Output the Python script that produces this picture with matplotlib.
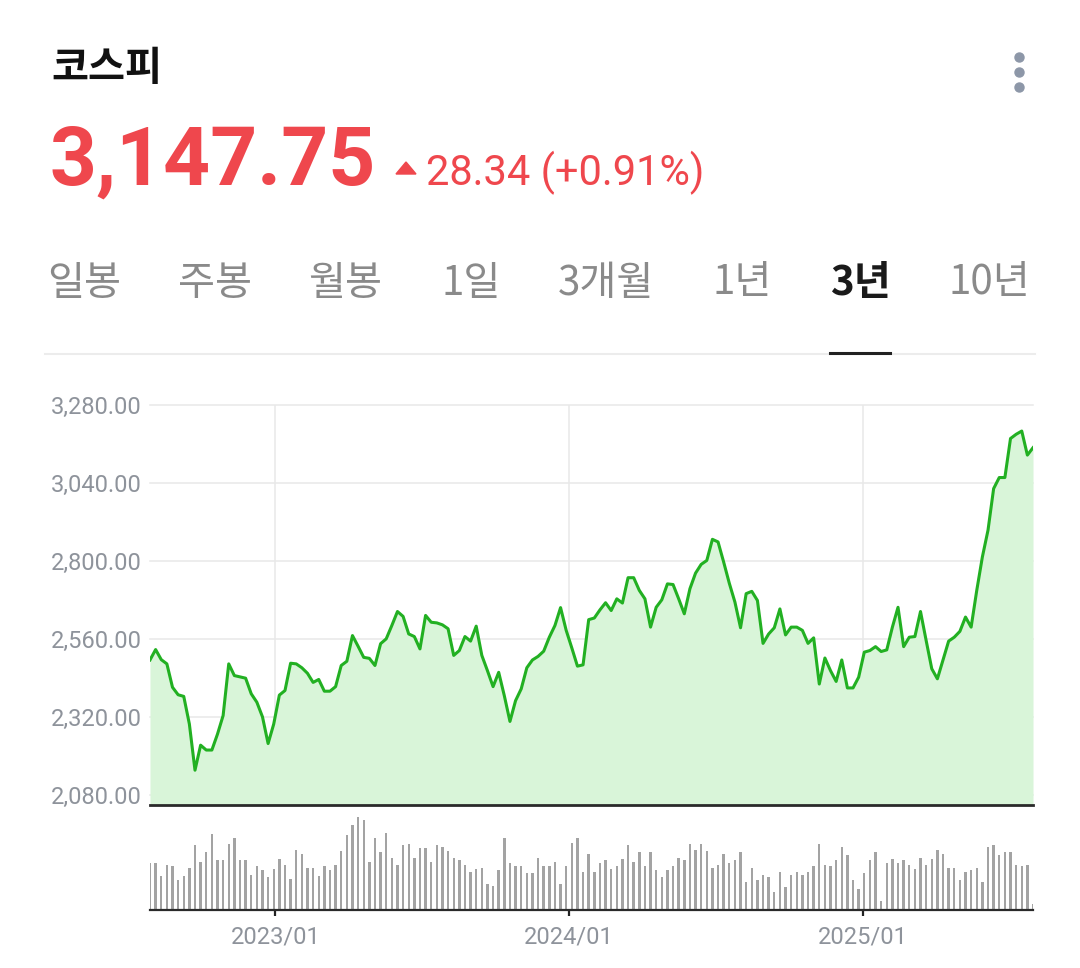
import matplotlib
matplotlib.use('Agg')
import matplotlib.pyplot as plt
from matplotlib.lines import Line2D
from matplotlib.patches import Polygon
import pandas as pd

plt.rcParams['font.family'] = ['Roboto', 'Noto Sans CJK KR', 'DejaVu Sans']

title = '코스피'
last_price = '3,147.75'
change_text = '28.34 (+0.91%)'
tabs = ['일봉', '주봉', '월봉', '1일', '3개월', '1년', '3년', '10년']
active_tab = '3년'

# weekly close, KOSPI
close = [2495, 2527, 2496, 2483, 2411, 2388, 2383, 2298, 2156, 2233,
         2218, 2218, 2267, 2324, 2483, 2447, 2443, 2439, 2391, 2365,
         2320, 2238, 2298, 2387, 2401, 2485, 2483, 2471, 2454, 2426,
         2435, 2399, 2399, 2413, 2478, 2491, 2570, 2537, 2503, 2500,
         2478, 2545, 2560, 2601, 2644, 2629, 2575, 2567, 2529, 2632,
         2611, 2609, 2603, 2591, 2509, 2524, 2567, 2553, 2599, 2509,
         2462, 2413, 2457, 2385, 2306, 2370, 2406, 2471, 2495, 2506,
         2522, 2565, 2601, 2656, 2586, 2532, 2476, 2480, 2619, 2624,
         2649, 2671, 2647, 2683, 2670, 2748, 2748, 2709, 2683, 2596,
         2657, 2680, 2729, 2727, 2683, 2637, 2714, 2762, 2789, 2801,
         2866, 2858, 2796, 2731, 2673, 2594, 2699, 2706, 2678, 2546,
         2575, 2594, 2652, 2572, 2596, 2596, 2586, 2546, 2563, 2421,
         2501, 2462, 2429, 2495, 2409, 2409, 2442, 2519, 2524, 2536,
         2521, 2526, 2596, 2657, 2536, 2565, 2567, 2644, 2555, 2468,
         2437, 2495, 2553, 2565, 2583, 2627, 2596, 2709, 2812, 2894,
         3022, 3056, 3056, 3176, 3189, 3199, 3125, 3147.75]

# weekly volume (relative units)
volume = [47, 47, 34, 45, 44, 30, 34, 42, 64, 48,
          57, 75, 50, 50, 65, 71, 50, 50, 35, 44,
          40, 33, 41, 51, 45, 31, 59, 55, 42, 42,
          34, 44, 40, 45, 58, 74, 84, 92, 89, 48,
          71, 57, 76, 52, 45, 64, 65, 52, 61, 61,
          48, 64, 62, 58, 52, 50, 45, 38, 41, 42,
          26, 24, 40, 71, 47, 44, 44, 37, 37, 52,
          44, 44, 48, 26, 44, 66, 71, 38, 55, 38,
          47, 50, 41, 44, 51, 64, 48, 57, 44, 57,
          40, 33, 40, 44, 52, 50, 65, 59, 65, 58,
          42, 45, 55, 47, 50, 57, 28, 42, 30, 35,
          33, 18, 38, 23, 35, 38, 35, 38, 44, 65,
          45, 44, 50, 62, 54, 30, 21, 37, 50, 57,
          9, 47, 51, 47, 50, 45, 41, 52, 45, 51,
          59, 55, 42, 42, 30, 38, 40, 42, 28, 62,
          64, 54, 57, 57, 45, 44, 45, 6]

dates = pd.date_range('2022-07-29', periods=len(close), freq='7D')
year_ticks = pd.to_datetime(['2023-01-01', '2024-01-01', '2025-01-01'])
price_ticks = [2080, 2320, 2560, 2800, 3040, 3280]

W, H = 1080, 968
def fx(px):
    return px / W
def fy(py):
    return 1 - py / H

red = '#ef474d'
grey_txt = '#8e939b'
grid_c = '#e8e8e8'

fig = plt.figure(figsize=(W / 100, H / 100), dpi=100)
fig.patch.set_facecolor('white')

# header
fig.text(fx(51), fy(68), title, fontsize=29, fontweight='bold', color='#111111',
         family=['Noto Sans CJK KR'], ha='left', va='center')
fig.add_artist(Line2D([fx(1019)] * 3, [fy(57), fy(72), fy(87)], ls='', marker='o',
                      ms=6.5, color='#8d97a8', transform=fig.transFigure))
fig.text(fx(50), fy(185), last_price, fontsize=59, fontweight='bold', color=red,
         ha='left', va='baseline')
fig.add_artist(Polygon([[fx(396), fy(174)], [fx(416), fy(174)], [fx(406), fy(162)]],
                       closed=True, color=red, transform=fig.transFigure))
fig.text(fx(426), fy(185), change_text, fontsize=30, color=red, ha='left', va='baseline')

# tabs
tab_x = [84, 215, 345, 471, 606, 742, 860, 989]
for t, x in zip(tabs, tab_x):
    if t == active_tab:
        fig.text(fx(x), fy(283), t, fontsize=29, fontweight='bold', color='#1a1a1a',
                 family=['Noto Sans CJK KR'], ha='center', va='center')
    else:
        fig.text(fx(x), fy(283), t, fontsize=29, color='#8a8a8a',
                 family=['Noto Sans CJK KR'], ha='center', va='center')
fig.add_artist(Line2D([fx(45), fx(1035)], [fy(354), fy(354)], color='#ececec', lw=1.5,
                      transform=fig.transFigure))
fig.add_artist(Line2D([fx(830), fx(890)], [fy(353), fy(353)], color='#222222', lw=2.2,
                      transform=fig.transFigure))

# price chart
ymin = 2049
ax = fig.add_axes([fx(150), fy(805), fx(883), (805 - 404.7) / H])
ax.set_xlim(dates[0], dates[-1])
ax.set_ylim(ymin, 3280)
for v in price_ticks:
    ax.axhline(v, color=grid_c, lw=1.1, zorder=0, clip_on=False)
ax.vlines(year_ticks, ymin, 3280, color=grid_c, lw=1.1, zorder=0)
ax.fill_between(dates, close, ymin, color='#d9f5d9', lw=0, zorder=1)
ax.plot(dates, close, color='#22b022', lw=2.2, zorder=2)
ax.set_yticks(price_ticks)
ax.set_yticklabels(['{:,.2f}'.format(v) for v in price_ticks])
ax.set_xticks([])
ax.tick_params(axis='y', length=0, pad=6, labelsize=17, labelcolor=grey_txt)
for s in ['top', 'right', 'left']:
    ax.spines[s].set_visible(False)
ax.spines['bottom'].set_color('#2a2a2a')
ax.spines['bottom'].set_linewidth(2.0)
ax.patch.set_alpha(0)

# volume chart
ax2 = fig.add_axes([fx(150), fy(910), fx(883), (910 - 805) / H])
ax2.bar(dates, volume, width=3.0, color='#a3a3a3', zorder=1)
ax2.set_xlim(dates[0], dates[-1])
ax2.set_ylim(0, 104)
ax2.set_yticks([])
ax2.set_xticks(year_ticks)
ax2.set_xticklabels([d.strftime('%Y/%m') for d in year_ticks])
ax2.tick_params(axis='x', length=4.5, width=1.6, color='#222222', pad=7,
                labelsize=17, labelcolor=grey_txt)
for s in ['top', 'right', 'left']:
    ax2.spines[s].set_visible(False)
ax2.spines['bottom'].set_color('#2a2a2a')
ax2.spines['bottom'].set_linewidth(1.6)
ax2.patch.set_alpha(0)

fig.savefig('out.png', dpi=100)
